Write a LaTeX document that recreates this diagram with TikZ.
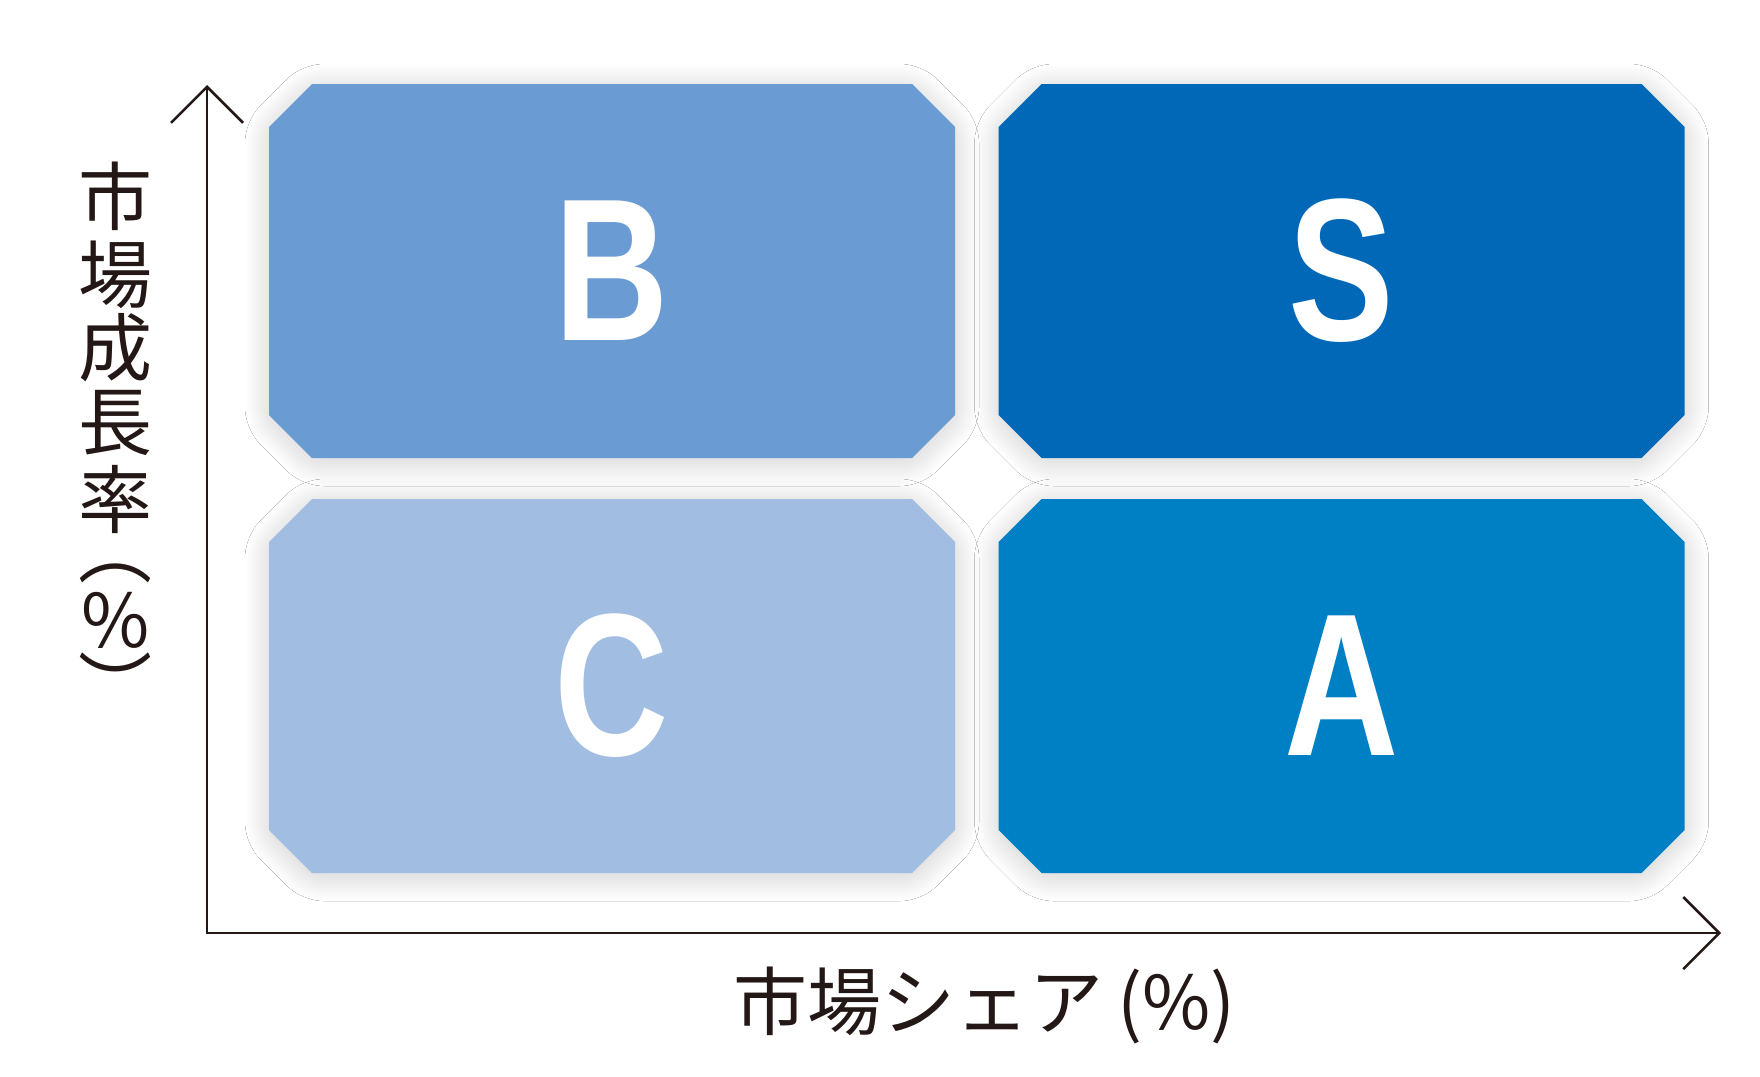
\documentclass[tikz,border=0pt]{standalone}
\usepackage{fontspec}
\newfontfamily\jpfont{Noto Sans CJK JP}
\newfontfamily\letterfont{Liberation Sans}
\usetikzlibrary{positioning,shapes.misc,arrows.meta,shadows.blur}
\definecolor{bblue}{HTML}{6A9BD2}
\definecolor{sblue}{HTML}{0068B7}
\definecolor{cblue}{HTML}{A2BDE2}
\definecolor{ablue}{HTML}{0080C4}
\definecolor{axisblack}{HTML}{231815}
\newcommand{\cond}[1]{\scalebox{0.78}[1]{#1}}
\tikzset{
  cell/.style={chamfered rectangle, chamfered rectangle sep=21.5pt,
    minimum width=686pt, minimum height=374pt, inner sep=0pt, text=white,
    font=\letterfont\bfseries\fontsize{203}{203}\selectfont,
    blur shadow={shadow xshift=0pt, shadow yshift=-4pt,
      shadow blur radius=24pt, shadow blur steps=40,
      shadow blur extra rounding=12pt, shadow opacity=20}},
  axis/.style={line width=2.5pt, draw=axisblack,
    {Straight Barb[length=36pt,width=72pt]}-{Straight Barb[length=36pt,width=72pt]}},
  axislabel/.style={font=\jpfont\fontsize{74}{74}\selectfont, text=axisblack, inner sep=0pt}
}
\begin{document}
\begin{tikzpicture}[x=1pt,y=-1pt,node distance=415pt,on grid]
		\useasboundingbox[fill=white] (0,0) rectangle (1760,1076);
		% quadrants
		\node[cell,fill=bblue] (b) at (612,271) {\cond{B}};
		\node[cell,fill=sblue] (s) [right=729.5pt of b] {\cond{S}};
		\node[cell,fill=cblue] (c) [below=of b] {\cond{C}};
		\node[cell,fill=ablue] (a) [below=of s] {\cond{A}};
		% axes
		\coordinate (origin) at (207,933);
		\coordinate (ytip) at (207,85);
		\coordinate (xtip) at (1721,933);
		\draw[axis] (ytip) -- (origin) -- (xtip);
		\node[axislabel,anchor=west] (xlab) at (733,1005) {市場シェア\hspace{-2pt} (\%)};
		\foreach \ch/\yy [count=\i] in {市/196,場/275,成/348,長/423,率/499,︵/573,︶/684}
		  \node[axislabel] (ylab\i) at (115.5,\yy) {\ch};
		\node[axislabel] (ypct) at (115.5,620) {\%};
\end{tikzpicture}
\end{document}
